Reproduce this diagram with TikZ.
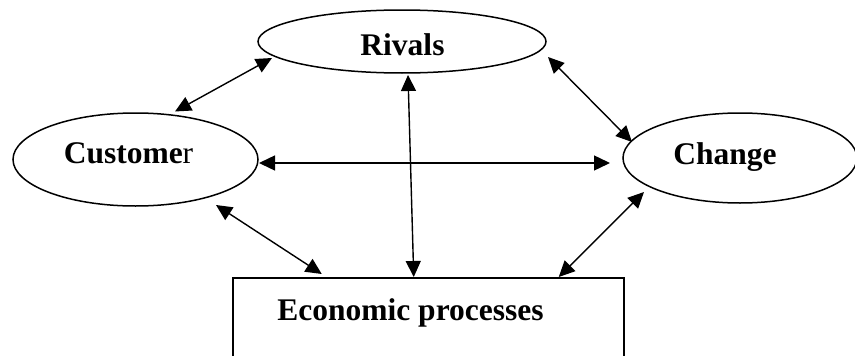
\documentclass[tikz,border=0pt]{standalone}
\usepackage{fontspec}
\setmainfont{Liberation Serif}
\usetikzlibrary{shapes.geometric,arrows.meta,calc}
\tikzset{
  oval/.style={ellipse, draw, line width=1.5pt, inner sep=0pt},
  box/.style={rectangle, draw, line width=1.5pt, inner sep=0pt, anchor=north west},
  lbl/.style={anchor=base, inner sep=0pt, font=\fontsize{31.5}{36}\selectfont\bfseries},
  biarrow/.style={line width=1.4pt, {Triangle[length=16pt,width=15pt]}-{Triangle[length=16pt,width=15pt]}}
}
\begin{document}
\begin{tikzpicture}[x=1pt,y=-1pt]
\useasboundingbox (0,0) rectangle (855,356);
\clip (0,0) rectangle (855,356);
\node[oval, minimum width=245pt, minimum height=93pt] (cust) at (135.5,159.5) {};
\node[oval, minimum width=288pt, minimum height=63pt] (riv) at (402,41.5) {};
\node[oval, minimum width=234pt, minimum height=90pt] (chg) at (740,158) {};
\node[box, minimum width=391pt, minimum height=120pt] (econ) at (232,277) {};
\node[lbl] (tcust) at (128.5,163) {Custome\mdseries r};
\node[lbl] (triv) at (402.5,56) {Rivals};
\node[lbl] (tchg) at (725,164) {Change};
\node[lbl] (tecon) at (410.5,320) {Economic processes};
\draw[biarrow] ($(cust.center)+(39.5,-48)$) -- ($(riv.center)+(-130,16.5)$);
\draw[biarrow] ($(cust.center)+(123.5,3.5)$) -- ($(chg.center)+(-130,5)$);
\draw[biarrow] ($(riv.center)+(6,33.5)$) -- ($(econ.north)+(-14.5,0)$);
\draw[biarrow] ($(riv.center)+(146,15.5)$) -- ($(chg.center)+(-108,-16)$);
\draw[biarrow] ($(cust.center)+(80.5,45.5)$) -- ($(econ.north)+(-106.5,-3)$);
\draw[biarrow] ($(chg.center)+(-96,34)$) -- ($(econ.north)+(130.5,0)$);
\end{tikzpicture}
\end{document}
